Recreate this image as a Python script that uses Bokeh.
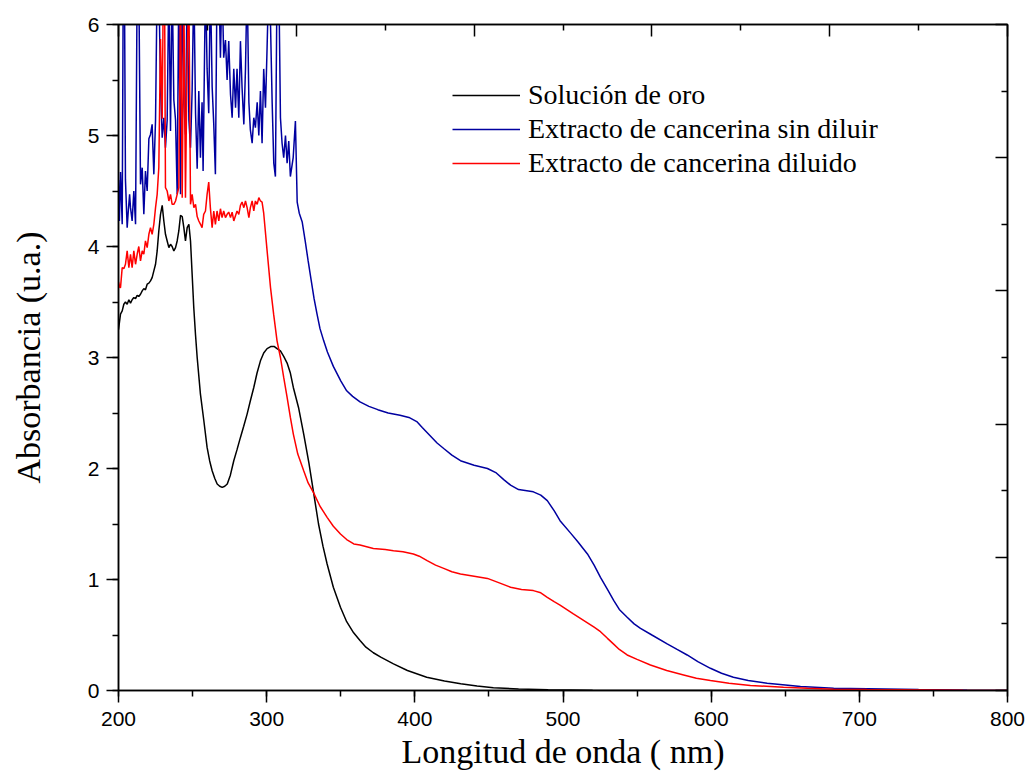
from bokeh.plotting import figure
from bokeh.models import (LinearAxis, FixedTicker, SingleIntervalTicker, Range1d,
                          Legend, LegendItem)
from bokeh.embed import file_html
from bokeh.resources import INLINE

# ---------------- data ----------------
wl_oro = [200, 201.35, 202.5, 203.6, 204.7, 205.85, 207, 208.1, 209.2, 210.35,
          211.5, 212.6, 213.7, 214.85, 216, 217.1, 218.2, 219.35, 220.5, 221.6,
          222.7, 223.85, 225, 226.1, 227.2, 228.35, 229.5, 230.6, 231.7, 232.85,
          234, 235.1, 236.2, 237.35, 238.5, 239.6, 240.7, 241.85, 243, 244.1,
          245.2, 246.35, 247.5, 248.6, 249.7, 250.8, 252, 253.1, 255.3, 257.6,
          259.8, 261.5, 263.2, 265, 266.6, 268.3, 270, 271.7, 273.4, 275.5,
          277.8, 280, 282.3, 284.5, 286.8, 289, 291.3, 293.5, 295.8, 298,
          300.3, 303, 305, 307, 309.3, 311.5, 313.8, 316, 318, 321.5,
          325, 328.5, 331.7, 335, 338, 340.8, 345, 349.8, 354, 358.7,
          363, 367, 372, 377, 385.6, 395, 408, 420, 431, 442,
          453, 470, 490, 520, 560, 620, 700, 800]
abs_oro = [3.25, 3.39, 3.42, 3.48, 3.50, 3.48, 3.52, 3.49, 3.52, 3.54,
           3.53, 3.56, 3.55, 3.57, 3.60, 3.62, 3.61, 3.66, 3.67, 3.69,
           3.72, 3.78, 3.84, 3.96, 4.14, 4.29, 4.37, 4.23, 4.11, 4.05,
           3.99, 4.02, 4.00, 3.96, 3.99, 4.05, 4.14, 4.28, 4.27, 4.17,
           4.05, 4.17, 4.20, 4.05, 3.75, 3.45, 3.20, 3.00, 2.67, 2.43,
           2.19, 2.07, 1.98, 1.91, 1.86, 1.84, 1.83, 1.84, 1.86, 1.94,
           2.07, 2.17, 2.28, 2.38, 2.49, 2.61, 2.73, 2.86, 2.97, 3.04,
           3.08, 3.10, 3.10, 3.08, 3.06, 3.01, 2.95, 2.86, 2.73, 2.55,
           2.31, 2.05, 1.78, 1.50, 1.30, 1.14, 0.93, 0.75, 0.62, 0.52,
           0.45, 0.39, 0.34, 0.30, 0.24, 0.18, 0.12, 0.085, 0.06, 0.04,
           0.025, 0.013, 0.006, 0.002, 0.0, 0.0, 0.0, 0.0]

wl_sin = [200, 200.6, 201.35, 202.5, 203.2, 204, 204.7, 205.85, 206.5, 207.5,
          208.1, 209.2, 210.35, 211.5, 212.6, 213.7, 214.85, 216, 217.1, 218.2,
          219.35, 220.5, 221.6, 222.7, 223.85, 225, 226.1, 227.2, 228.35, 229.5,
          230.6, 231.7, 232.85, 234, 235.1, 236.2, 237.35, 238.5, 239.6, 240.7,
          241.85, 243, 244.1, 245.2, 246.35, 247.5, 248.6, 249.7, 250.85, 252,
          253.1, 254.2, 255.3, 256.4, 257.1, 258.7, 259.8, 260.9, 262, 263.2,
          264.3, 265.4, 266.5, 267.7, 268.8, 269.9, 271, 272.2, 273.3, 274.4,
          275.6, 276.7, 277.8, 279, 280, 281.2, 282.3, 283.4, 284.6, 285.7,
          286.8, 288, 289, 290.2, 291.3, 292.4, 293.6, 294.7, 295.8, 296.9,
          298, 299.2, 300.3, 301.4, 302.6, 303.7, 304.8, 305.9, 307, 308.2,
          309.3, 310.4, 311.5, 312.7, 313.8, 314.9, 316, 317.9, 319.4, 320.6,
          322, 324, 326, 328, 330, 332, 334, 336, 338.5, 341,
          345, 350, 354, 358, 363, 369, 375, 382, 390, 396,
          401.6, 405, 410, 415, 419.5, 425, 430.8, 440, 449, 455,
          460, 464.6, 470, 480, 485, 489.4, 494, 498, 505, 510,
          516.5, 521, 525.3, 530, 534.3, 538, 543.3, 548, 552.3, 560,
          570.3, 577, 583.8, 591, 599.5, 607, 615, 625, 637.8, 650,
          660.3, 682.7, 705.3, 740, 772.7, 800]
abs_sin = [4.60, 4.23, 4.67, 4.20, 6.40, 6.40, 4.60, 4.17, 4.30, 4.47,
           4.35, 4.23, 4.50, 4.20, 6.40, 6.40, 4.56, 4.71, 4.29, 4.68,
           4.50, 4.97, 5.01, 5.10, 4.65, 5.14, 6.40, 6.40, 5.44, 4.98,
           5.16, 4.89, 5.14, 6.40, 5.04, 6.40, 5.32, 5.14, 4.47, 6.40,
           4.47, 6.40, 5.29, 5.01, 6.40, 5.14, 4.89, 5.41, 6.40, 5.20,
           4.70, 5.40, 4.80, 5.30, 4.68, 6.40, 5.60, 5.20, 6.40, 5.44,
           5.10, 4.65, 6.40, 6.40, 5.70, 6.40, 5.70, 5.86, 5.50, 5.85,
           5.37, 5.16, 5.60, 5.25, 5.60, 5.16, 5.85, 5.43, 5.10, 5.60,
           6.40, 5.30, 5.05, 4.93, 5.16, 5.07, 5.30, 5.00, 5.40, 4.93,
           5.60, 5.25, 5.80, 6.40, 6.00, 5.30, 4.75, 4.63, 6.40, 6.40,
           5.16, 4.93, 4.80, 5.00, 4.75, 4.95, 4.63, 4.80, 5.13, 4.40,
           4.30, 4.22, 4.05, 3.87, 3.70, 3.53, 3.39, 3.26, 3.15, 3.05,
           2.92, 2.79, 2.70, 2.65, 2.60, 2.56, 2.53, 2.50, 2.48, 2.46,
           2.42, 2.37, 2.30, 2.23, 2.18, 2.12, 2.07, 2.03, 2.00, 1.96,
           1.90, 1.85, 1.81, 1.79, 1.76, 1.71, 1.62, 1.53, 1.42, 1.34,
           1.23, 1.13, 1.02, 0.91, 0.81, 0.73, 0.66, 0.60, 0.56, 0.50,
           0.42, 0.37, 0.32, 0.26, 0.20, 0.155, 0.12, 0.09, 0.066, 0.05,
           0.036, 0.020, 0.015, 0.008, 0.003, 0.0]

wl_dil = [200, 200.9, 201.35, 202.5, 203.6, 204.7, 205.85, 207, 208.1, 209.2,
          210.35, 211.5, 212.6, 213.7, 214.85, 216, 217.1, 218.2, 219.35, 220.5,
          221.6, 222.7, 223.85, 225, 226.1, 227.2, 228.35, 229.5, 230.2, 231.1,
          231.7, 232.85, 234, 235.1, 236.2, 237.35, 238.5, 239.6, 240.7, 241.85,
          243, 244.1, 245.2, 246.35, 247.5, 248.6, 249.7, 250.85, 252, 253.1,
          254.2, 255.35, 256.4, 257.5, 258.7, 259.8, 260.9, 262, 263.2, 264.3,
          265.4, 266.5, 267.7, 268.8, 269.9, 271, 272.2, 273.3, 274.4, 275.6,
          276.7, 277.8, 279, 280, 281.2, 282.3, 283.4, 284.6, 285.7, 286.8,
          288, 289, 290.2, 291.3, 292.4, 293.6, 294.7, 295.8, 296.9, 298,
          300.3, 302.6, 304.7, 307, 309.3, 311.5, 313.8, 316, 318, 321,
          325, 328, 331.7, 336, 340.8, 345, 349.8, 354, 358.8, 363,
          372, 380, 385.6, 392, 399, 403, 408.3, 414, 419.5, 425,
          430.8, 440, 449, 457, 464.6, 472, 480, 485, 489.4, 494,
          498, 507, 516.5, 521, 525.3, 530, 534, 538, 543.3, 550,
          559, 570, 581.4, 590, 599.5, 612, 626.5, 648.8, 665, 682.7,
          705, 727.8, 770, 800]
abs_dil = [3.68, 3.63, 3.63, 3.81, 3.80, 3.84, 3.96, 3.81, 3.93, 3.81,
           3.96, 3.84, 3.93, 4.00, 3.87, 3.96, 3.93, 4.05, 3.99, 4.11,
           4.17, 4.11, 4.20, 4.35, 4.47, 4.71, 5.87, 5.15, 6.30, 6.30,
           4.53, 4.50, 4.41, 4.47, 4.38, 4.38, 4.41, 4.47, 4.53, 6.30,
           4.44, 6.30, 4.44, 5.73, 6.30, 4.38, 4.47, 4.35, 4.38, 4.27,
           4.23, 4.20, 4.17, 4.29, 4.32, 4.47, 4.58, 4.35, 4.17, 4.32,
           4.20, 4.32, 4.23, 4.34, 4.26, 4.32, 4.26, 4.29, 4.31, 4.26,
           4.31, 4.23, 4.28, 4.32, 4.29, 4.37, 4.40, 4.35, 4.41, 4.35,
           4.26, 4.35, 4.41, 4.32, 4.41, 4.38, 4.44, 4.41, 4.40, 4.30,
           3.96, 3.63, 3.39, 3.15, 3.00, 2.82, 2.64, 2.46, 2.31, 2.13,
           1.98, 1.87, 1.78, 1.66, 1.56, 1.48, 1.41, 1.36, 1.32, 1.31,
           1.28, 1.27, 1.26, 1.25, 1.23, 1.21, 1.17, 1.13, 1.10, 1.07,
           1.05, 1.03, 1.01, 0.97, 0.93, 0.91, 0.90, 0.88, 0.84, 0.80,
           0.77, 0.69, 0.61, 0.57, 0.53, 0.47, 0.42, 0.37, 0.32, 0.28,
           0.23, 0.18, 0.14, 0.11, 0.09, 0.065, 0.045, 0.03, 0.02, 0.012,
           0.008, 0.006, 0.002, 0.0]

series_names = ["Solución de oro", "Extracto de cancerina sin diluir",
                "Extracto de cancerina diluido"]
series_colors = ["#000000", "#0000A0", "#FF0000"]

x_title = "Longitud de onda ( nm)"
y_title = "Absorbancia (u.a.)"

# ---------------- figure ----------------
SERIF = "Liberation Serif"
SANS = "Liberation Sans"

p = figure(width=1031, height=781, x_range=Range1d(200, 800), y_range=Range1d(0, 6),
           output_backend="svg", toolbar_location=None,
           min_border_left=118, min_border_right=24, min_border_top=24,
           min_border_bottom=91, background_fill_color="white",
           border_fill_color="white")
p.xgrid.visible = False
p.ygrid.visible = False
p.outline_line_color = "black"
p.outline_line_width = 1.5

def style_axis(ax, out=True):
    ax.axis_line_color = "black"
    ax.axis_line_width = 1.5
    ax.major_tick_line_width = 1.5
    ax.minor_tick_line_width = 1.5
    ax.major_tick_line_color = "black"
    ax.minor_tick_line_color = "black"
    if out:
        ax.major_tick_out = 12
        ax.major_tick_in = 0
        ax.minor_tick_out = 6
        ax.minor_tick_in = 0
    else:
        ax.major_tick_out = 0
        ax.major_tick_in = 12
        ax.minor_tick_out = 0
        ax.minor_tick_in = 6

xa = p.xaxis[0]
ya = p.yaxis[0]
xa.ticker = SingleIntervalTicker(interval=100, num_minor_ticks=2)
ya.ticker = SingleIntervalTicker(interval=1, num_minor_ticks=2)
for ax in (xa, ya):
    style_axis(ax, True)
    ax.major_label_text_font = SANS
    ax.major_label_text_font_size = "21px"
    ax.major_label_text_color = "black"
    ax.axis_label_text_font = SERIF
    ax.axis_label_text_font_size = "34px"
    ax.axis_label_text_font_style = "normal"
    ax.axis_label_text_color = "black"
xa.axis_label = x_title
ya.axis_label = y_title
xa.major_label_standoff = 9
ya.major_label_standoff = 7
xa.axis_label_standoff = 4
ya.axis_label_standoff = 38

top = LinearAxis(ticker=FixedTicker(ticks=[200, 320, 440, 560, 680, 800],
                                    minor_ticks=[260, 380, 500, 620, 740]))
right = LinearAxis(ticker=FixedTicker(ticks=[0, 1.2, 2.4, 3.6, 4.8, 6.0],
                                      minor_ticks=[0.6, 1.8, 3.0, 4.2, 5.4]))
for ax in (top, right):
    style_axis(ax, False)
    ax.major_label_text_font_size = "0px"
    ax.major_label_text_alpha = 0
    ax.major_label_standoff = 0
p.add_layout(top, "above")
p.add_layout(right, "right")

r_oro = p.line(wl_oro, abs_oro, line_color=series_colors[0], line_width=1.5)
r_sin = p.line(wl_sin, abs_sin, line_color=series_colors[1], line_width=1.5)
r_dil = p.line(wl_dil, abs_dil, line_color=series_colors[2], line_width=1.5)

legend = Legend(items=[LegendItem(label=series_names[0], renderers=[r_oro]),
                       LegendItem(label=series_names[1], renderers=[r_sin]),
                       LegendItem(label=series_names[2], renderers=[r_dil])],
                location=(334, 511))
legend.border_line_color = None
legend.background_fill_alpha = 0
legend.padding = 0
legend.margin = 0
legend.spacing = 2
legend.glyph_width = 68
legend.glyph_height = 20
legend.label_height = 20
legend.label_standoff = 8
legend.label_text_font = SERIF
legend.label_text_font_size = "28px"
legend.label_text_color = "black"
p.add_layout(legend, "center")

open("out.html", "w").write(file_html(p, INLINE))
